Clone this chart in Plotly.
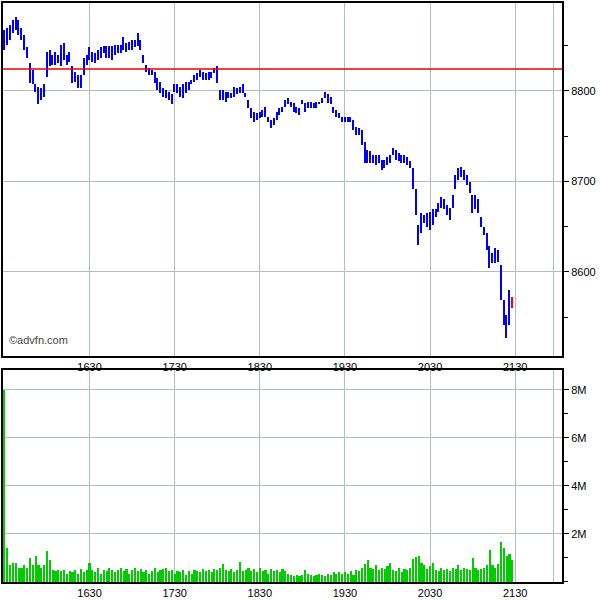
import plotly.graph_objects as go

# ---- data ----
# minutes after 15:30, one bar every 2 minutes
bar_minutes = list(range(0, 360, 2))

high = [8867, 8869, 8873, 8878, 8882, 8878, 8869, 8862, 8848, 8831,
        8823, 8807, 8804, 8803, 8807, 8843, 8845, 8840, 8843, 8840,
        8851, 8853, 8840, 8843, 8827, 8821, 8818, 8818, 8836, 8840,
        8848, 8843, 8842, 8845, 8848, 8849, 8849, 8849, 8849, 8851,
        8851, 8851, 8859, 8853, 8854, 8856, 8856, 8864, 8856, 8840,
        8829, 8825, 8823, 8821, 8814, 8810, 8803, 8801, 8799, 8796,
        8807, 8807, 8804, 8807, 8810, 8810, 8812, 8818, 8820, 8823,
        8821, 8820, 8821, 8821, 8825, 8827, 8801, 8801, 8799, 8799,
        8798, 8804, 8803, 8804, 8807, 8798, 8790, 8781, 8777, 8776,
        8777, 8779, 8782, 8771, 8768, 8770, 8777, 8781, 8782, 8790,
        8792, 8788, 8787, 8782, 8781, 8790, 8787, 8788, 8788, 8787,
        8788, 8788, 8792, 8799, 8796, 8793, 8782, 8779, 8776, 8771,
        8771, 8771, 8771, 8768, 8760, 8759, 8757, 8743, 8735, 8733,
        8729, 8729, 8729, 8724, 8724, 8727, 8729, 8737, 8735, 8731,
        8729, 8729, 8727, 8722, 8715, 8691, 8652, 8665, 8663, 8665,
        8666, 8669, 8669, 8676, 8683, 8680, 8674, 8671, 8685, 8707,
        8715, 8716, 8713, 8707, 8699, 8685, 8685, 8680, 8661, 8650,
        8643, 8628, 8621, 8626, 8624, 8608, 8569, 8552, 8580, 8572]

low = [8845, 8851, 8856, 8864, 8867, 8862, 8856, 8845, 8836, 8809,
       8807, 8799, 8785, 8790, 8793, 8815, 8827, 8829, 8829, 8831,
       8827, 8834, 8829, 8832, 8809, 8810, 8803, 8803, 8818, 8829,
       8834, 8832, 8831, 8834, 8836, 8842, 8836, 8836, 8834, 8840,
       8842, 8842, 8845, 8843, 8845, 8845, 8848, 8849, 8845, 8831,
       8821, 8818, 8818, 8809, 8801, 8798, 8793, 8792, 8790, 8785,
       8799, 8798, 8793, 8792, 8798, 8801, 8807, 8810, 8812, 8815,
       8812, 8812, 8812, 8814, 8820, 8809, 8790, 8790, 8788, 8792,
       8792, 8793, 8796, 8798, 8798, 8793, 8781, 8770, 8766, 8768,
       8770, 8771, 8771, 8765, 8759, 8762, 8768, 8773, 8777, 8782,
       8785, 8782, 8777, 8776, 8773, 8785, 8777, 8781, 8781, 8781,
       8781, 8785, 8787, 8792, 8787, 8785, 8776, 8771, 8770, 8766,
       8765, 8765, 8765, 8757, 8751, 8751, 8740, 8720, 8720, 8720,
       8720, 8718, 8720, 8713, 8715, 8718, 8720, 8729, 8724, 8722,
       8720, 8720, 8718, 8715, 8691, 8663, 8630, 8643, 8654, 8649,
       8646, 8652, 8661, 8666, 8671, 8669, 8663, 8657, 8671, 8691,
       8702, 8705, 8702, 8696, 8687, 8665, 8669, 8665, 8650, 8641,
       8624, 8604, 8610, 8610, 8611, 8569, 8541, 8527, 8541, 8560]

# volume, millions of shares
volume = [8.0, 1.4, 0.7, 0.8, 0.8, 0.6, 0.6, 0.7, 0.6, 1.0,
          0.7, 1.1, 0.7, 0.6, 0.7, 1.3, 0.9, 0.5, 0.45, 0.5,
          0.45, 0.5, 0.35, 0.45, 0.4, 0.5, 0.35, 0.55, 0.4, 0.5,
          0.8, 0.5, 0.4, 0.6, 0.35, 0.5, 0.45, 0.6, 0.5, 0.4,
          0.5, 0.6, 0.45, 0.55, 0.35, 0.5, 0.6, 0.45, 0.55, 0.4,
          0.5, 0.35, 0.45, 0.6, 0.4, 0.5, 0.55, 0.6, 0.45, 0.5,
          0.35, 0.45, 0.4, 0.5, 0.3, 0.45, 0.35, 0.5, 0.45, 0.4,
          0.55, 0.45, 0.5, 0.4, 0.55, 0.5, 0.6, 0.75, 0.5, 0.45,
          0.55, 0.4, 0.5, 0.85, 0.45, 0.5, 0.6, 0.45, 0.55, 0.4,
          0.6, 0.45, 0.5, 0.35, 0.55, 0.45, 0.5, 0.4, 0.55, 0.45,
          0.35, 0.3, 0.25, 0.3, 0.25, 0.3, 0.5, 0.35, 0.3, 0.25,
          0.3, 0.35, 0.3, 0.25, 0.35, 0.3, 0.4, 0.35, 0.4, 0.35,
          0.4, 0.35, 0.45, 0.3, 0.5, 0.45, 0.6, 0.75, 0.9, 0.6,
          0.55, 0.7, 0.5, 0.6, 0.55, 0.65, 0.8, 0.5, 0.45, 0.6,
          0.4, 0.55, 0.5, 0.6, 0.95, 1.05, 1.1, 0.8, 0.7, 0.55,
          0.65, 0.8, 0.5, 0.45, 0.6, 0.5, 0.55, 0.45, 0.6, 0.55,
          0.7, 0.5, 0.6, 0.55, 0.5, 1.0, 0.6, 0.5, 0.55, 0.6,
          0.7, 1.35, 0.7, 0.6, 0.75, 1.65, 1.4, 1.1, 1.15, 0.9]

prev_close = 8824
session_end = 387
hour_ticks = [60, 120, 180, 240, 300, 360]
hour_labels = ["1630", "1730", "1830", "1930", "2030", "2130"]
price_ticks = [8600, 8700, 8800]
vol_ticks = [2, 4, 6, 8]
vol_labels = ["2M", "4M", "6M", "8M"]

# ---- figure ----
n = len(bar_minutes)
bar_colors = ["#0000ff"] * (n - 1) + ["#ff0000"]
ranges = [h - l for h, l in zip(high, low)]

fig = go.Figure()
fig.add_trace(go.Bar(x=bar_minutes, y=ranges, base=low, width=1.0,
                     marker=dict(color=bar_colors, line=dict(width=0)),
                     xaxis="x", yaxis="y", hoverinfo="skip"))
fig.add_trace(go.Bar(x=bar_minutes, y=volume, width=1.5,
                     marker=dict(color="#00cc00", line=dict(width=0)),
                     xaxis="x2", yaxis="y2", hoverinfo="skip"))

grid = "#b4bebe"
font = dict(family="Liberation Sans, Arial, sans-serif", size=11, color="black")
xcommon = dict(range=[-1, 393], tickvals=hour_ticks, ticktext=hour_labels,
               showgrid=True, gridcolor=grid, gridwidth=1, ticks="",
               showline=True, linecolor="black", linewidth=2, mirror=True,
               zeroline=False, tickfont=font)
ycommon = dict(side="right", showgrid=True, gridcolor=grid, gridwidth=1,
               ticks="outside", ticklen=5, tickcolor="black", tickwidth=1,
               showline=True, linecolor="black", linewidth=2, mirror=True,
               zeroline=False, tickfont=font)

fig.update_layout(
    width=600, height=600,
    margin=dict(l=3, r=38, t=3, b=18, autoexpand=False),
    paper_bgcolor="white", plot_bgcolor="white",
    showlegend=False, barmode="overlay", bargap=0,
    xaxis=dict(domain=[0, 1], anchor="y", **xcommon),
    yaxis=dict(domain=[0.3903, 1], anchor="x", range=[8507, 8897],
               tickvals=price_ticks, ticktext=[str(v) for v in price_ticks],
               minor=dict(dtick=50, tick0=8500, ticks="outside", ticklen=4,
                          tickcolor="black", showgrid=False),
               **ycommon),
    xaxis2=dict(domain=[0, 1], anchor="y2", **xcommon),
    yaxis2=dict(domain=[0, 0.3661], anchor="x2", range=[0, 8.83],
                tickvals=vol_ticks, ticktext=vol_labels,
                minor=dict(dtick=1, tick0=0, ticks="outside", ticklen=4,
                           tickcolor="black", showgrid=False),
                **ycommon),
)

# previous close line
fig.add_shape(type="line", xref="x", yref="y", x0=-1, x1=393,
              y0=prev_close, y1=prev_close, line=dict(color="#ee0000", width=1.5),
              layer="above")
# session end lines
for ya in ["y", "y2"]:
    fig.add_shape(type="line", xref="x" if ya == "y" else "x2",
                  yref=ya + " domain", x0=session_end, x1=session_end, y0=0, y1=1,
                  line=dict(color=grid, width=1), layer="below")

fig.add_annotation(text="©advfn.com", xref="paper", yref="paper", x=0.008, y=0.405,
                   xanchor="left", yanchor="bottom", showarrow=False,
                   font=dict(family="Liberation Sans, Arial, sans-serif", size=11,
                             color="#444444"))

fig.write_html("out.html",
               config={"displayModeBar": False},
               post_script="document.body.style.margin='0px';"
                           "document.body.style.padding='0px';")
